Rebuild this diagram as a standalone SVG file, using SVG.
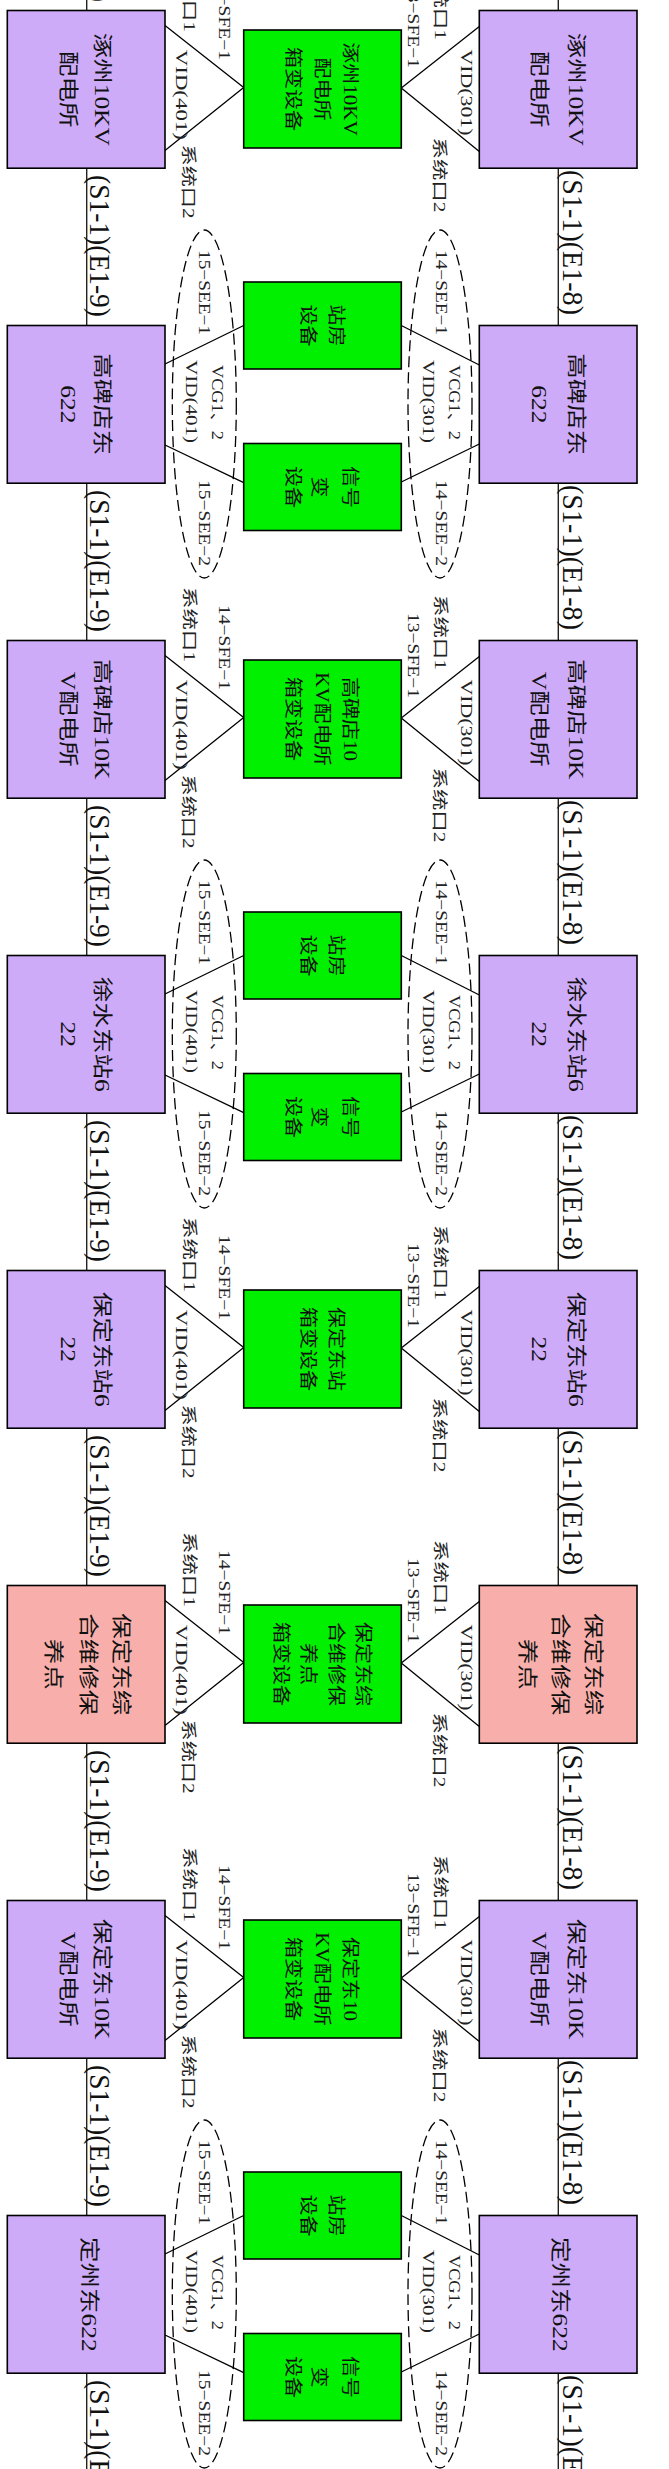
<svg xmlns="http://www.w3.org/2000/svg" width="669" height="2469" viewBox="0 0 669 2469">
<style>
.p{fill:#CEABF9;stroke:#000;stroke-width:1.6}
.k{fill:#F8AFAB;stroke:#000;stroke-width:1.6}
.g{fill:#00F000;stroke:#000;stroke-width:1.6}
.c{stroke:#000;stroke-width:1.3;fill:none}
.sp{stroke:#222;stroke-width:1.4;fill:none}
.e{stroke:#000;stroke-width:1.3;fill:none;stroke-dasharray:11 5}
text{font-family:"Liberation Serif","Noto Sans CJK SC",serif;fill:#111}
.bt{font-size:20px;text-anchor:middle}
.gt{font-size:18px;text-anchor:middle}
.lb{font-size:16px;fill:#222}
.sl{font-size:29px}
</style>
<rect width="669" height="2469" fill="#fff"/>
<g id="spines">
<line class="sp" x1="86.7" y1="0" x2="86.7" y2="2469"/>
<line class="sp" x1="558.3" y1="0" x2="558.3" y2="2469"/>
</g>
<g id="span-labels">
<text class="sl" transform="matrix(0,1,-1,0,90,-140)" textLength="142" lengthAdjust="spacingAndGlyphs">(S1-1)(E1-9)</text>
<text class="sl" transform="matrix(0,1,-1,0,563,-145)" textLength="145" lengthAdjust="spacingAndGlyphs">(S1-1)(E1-8)</text>
<text class="sl" transform="matrix(0,1,-1,0,90,175)" textLength="142" lengthAdjust="spacingAndGlyphs">(S1-1)(E1-9)</text>
<text class="sl" transform="matrix(0,1,-1,0,563,170)" textLength="145" lengthAdjust="spacingAndGlyphs">(S1-1)(E1-8)</text>
<text class="sl" transform="matrix(0,1,-1,0,90,490)" textLength="142" lengthAdjust="spacingAndGlyphs">(S1-1)(E1-9)</text>
<text class="sl" transform="matrix(0,1,-1,0,563,485)" textLength="145" lengthAdjust="spacingAndGlyphs">(S1-1)(E1-8)</text>
<text class="sl" transform="matrix(0,1,-1,0,90,805)" textLength="142" lengthAdjust="spacingAndGlyphs">(S1-1)(E1-9)</text>
<text class="sl" transform="matrix(0,1,-1,0,563,800)" textLength="145" lengthAdjust="spacingAndGlyphs">(S1-1)(E1-8)</text>
<text class="sl" transform="matrix(0,1,-1,0,90,1120)" textLength="142" lengthAdjust="spacingAndGlyphs">(S1-1)(E1-9)</text>
<text class="sl" transform="matrix(0,1,-1,0,563,1115)" textLength="145" lengthAdjust="spacingAndGlyphs">(S1-1)(E1-8)</text>
<text class="sl" transform="matrix(0,1,-1,0,90,1435)" textLength="142" lengthAdjust="spacingAndGlyphs">(S1-1)(E1-9)</text>
<text class="sl" transform="matrix(0,1,-1,0,563,1430)" textLength="145" lengthAdjust="spacingAndGlyphs">(S1-1)(E1-8)</text>
<text class="sl" transform="matrix(0,1,-1,0,90,1750)" textLength="142" lengthAdjust="spacingAndGlyphs">(S1-1)(E1-9)</text>
<text class="sl" transform="matrix(0,1,-1,0,563,1745)" textLength="145" lengthAdjust="spacingAndGlyphs">(S1-1)(E1-8)</text>
<text class="sl" transform="matrix(0,1,-1,0,90,2065)" textLength="142" lengthAdjust="spacingAndGlyphs">(S1-1)(E1-9)</text>
<text class="sl" transform="matrix(0,1,-1,0,563,2060)" textLength="145" lengthAdjust="spacingAndGlyphs">(S1-1)(E1-8)</text>
<text class="sl" transform="matrix(0,1,-1,0,90,2380)" textLength="142" lengthAdjust="spacingAndGlyphs">(S1-1)(E1-9)</text>
<text class="sl" transform="matrix(0,1,-1,0,563,2375)" textLength="145" lengthAdjust="spacingAndGlyphs">(S1-1)(E1-8)</text>
</g>
<g id="connectors">
<g transform="translate(0,10.5)"><path class="c" d="M165,15 L243.7,77 L165,140 M479.3,16 L401.3,77.5 L479.3,141"/></g>
<g transform="translate(0,325.5)"><path class="c" d="M165,38.5 L243.7,0 M165,119.5 L243.7,157.2 M401.3,0 L479.3,39.5 M401.3,156.5 L479.3,118.5"/><ellipse class="e" cx="204.3" cy="78.5" rx="32" ry="174"/><ellipse class="e" cx="440" cy="78.5" rx="32" ry="174"/></g>
<g transform="translate(0,640.5)"><path class="c" d="M165,15 L243.7,77 L165,140 M479.3,16 L401.3,77.5 L479.3,141"/></g>
<g transform="translate(0,955.5)"><path class="c" d="M165,38.5 L243.7,0 M165,119.5 L243.7,157.2 M401.3,0 L479.3,39.5 M401.3,156.5 L479.3,118.5"/><ellipse class="e" cx="204.3" cy="78.5" rx="32" ry="174"/><ellipse class="e" cx="440" cy="78.5" rx="32" ry="174"/></g>
<g transform="translate(0,1270.5)"><path class="c" d="M165,15 L243.7,77 L165,140 M479.3,16 L401.3,77.5 L479.3,141"/></g>
<g transform="translate(0,1585.5)"><path class="c" d="M165,15 L243.7,77 L165,140 M479.3,16 L401.3,77.5 L479.3,141"/></g>
<g transform="translate(0,1900.5)"><path class="c" d="M165,15 L243.7,77 L165,140 M479.3,16 L401.3,77.5 L479.3,141"/></g>
<g transform="translate(0,2215.5)"><path class="c" d="M165,38.5 L243.7,0 M165,119.5 L243.7,157.2 M401.3,0 L479.3,39.5 M401.3,156.5 L479.3,118.5"/><ellipse class="e" cx="204.3" cy="78.5" rx="32" ry="174"/><ellipse class="e" cx="440" cy="78.5" rx="32" ry="174"/></g>
</g>

<!-- Row 1 -->
<g transform="translate(0,10.5)">
<g id="r1-left"><rect class="p" x="7.3" y="0" width="157.7" height="157.7"/>
<text class="bt" transform="matrix(0,1.275,-1,0,94.9,78.8)">涿州10KV</text>
<text class="bt" transform="matrix(0,1.275,-1,0,60.7,78.8)">配电所</text></g>
<g id="r1-box"><rect class="g" x="243.7" y="19.5" width="157.6" height="118"/>
<text class="gt" transform="matrix(0,1.167,-1,0,344,78.5)">涿州10KV</text>
<text class="gt" transform="matrix(0,1.167,-1,0,315.7,78.5)">配电所</text>
<text class="gt" transform="matrix(0,1.167,-1,0,287.4,78.5)">箱变设备</text></g>
<g id="r1-right"><rect class="p" x="479.3" y="0" width="157.7" height="157.7"/>
<text class="bt" transform="matrix(0,1.275,-1,0,569.2,78.8)">涿州10KV</text>
<text class="bt" transform="matrix(0,1.275,-1,0,531.7,78.8)">配电所</text></g>
<g id="r1-labels">
<text class="lb" transform="matrix(0,1,-1,0,183.7,-53.5)" textLength="75" lengthAdjust="spacingAndGlyphs">系统口1</text>
<text class="lb" transform="matrix(0,1,-1,0,219,-35.5)" textLength="85" lengthAdjust="spacingAndGlyphs">14−SFE−1</text>
<text class="lb" transform="matrix(0,1,-1,0,176,39.3)" textLength="90" lengthAdjust="spacingAndGlyphs">VID(401)</text>
<text class="lb" transform="matrix(0,1,-1,0,182.5,134)" textLength="74" lengthAdjust="spacingAndGlyphs">系统口2</text>
<text class="lb" transform="matrix(0,1,-1,0,435,-45.5)" textLength="75" lengthAdjust="spacingAndGlyphs">系统口1</text>
<text class="lb" transform="matrix(0,1,-1,0,408,-27.5)" textLength="85" lengthAdjust="spacingAndGlyphs">13−SFE−1</text>
<text class="lb" transform="matrix(0,1,-1,0,461,39)" textLength="86" lengthAdjust="spacingAndGlyphs">VID(301)</text>
<text class="lb" transform="matrix(0,1,-1,0,434,127)" textLength="75" lengthAdjust="spacingAndGlyphs">系统口2</text>
</g>
</g>

<!-- Row 2 -->
<g transform="translate(0,325.5)">
<g id="r2-left"><rect class="p" x="7.3" y="0" width="157.7" height="157.7"/>
<text class="bt" transform="matrix(0,1.275,-1,0,94.9,78.8)">高碑店东</text>
<text class="bt" transform="matrix(0,1.275,-1,0,60.7,78.8)">622</text></g>
<g id="r2-box1"><rect class="g" x="243.7" y="-43.5" width="157.6" height="87"/>
<text class="gt" transform="matrix(0,1.167,-1,0,329.8,0)">站房</text>
<text class="gt" transform="matrix(0,1.167,-1,0,301.6,0)">设备</text></g>
<g id="r2-box2"><rect class="g" x="243.7" y="118" width="157.6" height="87"/>
<text class="gt" transform="matrix(0,1.167,-1,0,344,161.5)">信号</text>
<text class="gt" transform="matrix(0,1.167,-1,0,313.2,161.5)">变</text>
<text class="gt" transform="matrix(0,1.167,-1,0,287.4,161.5)">设备</text></g>
<g id="r2-right"><rect class="p" x="479.3" y="0" width="157.7" height="157.7"/>
<text class="bt" transform="matrix(0,1.275,-1,0,569.2,78.8)">高碑店东</text>
<text class="bt" transform="matrix(0,1.275,-1,0,531.7,78.8)">622</text></g>
<g id="r2-labels">
<text class="lb" transform="matrix(0,1,-1,0,199,-75.5)" textLength="85" lengthAdjust="spacingAndGlyphs">15−SEE−1</text>
<text class="lb" transform="matrix(0,1,-1,0,212,39.5)" textLength="75" lengthAdjust="spacingAndGlyphs">VCG1、2</text>
<text class="lb" transform="matrix(0,1,-1,0,186,34.5)" textLength="83" lengthAdjust="spacingAndGlyphs">VID(401)</text>
<text class="lb" transform="matrix(0,1,-1,0,199,154.5)" textLength="86" lengthAdjust="spacingAndGlyphs">15−SEE−2</text>
<text class="lb" transform="matrix(0,1,-1,0,436,-75.5)" textLength="85" lengthAdjust="spacingAndGlyphs">14−SEE−1</text>
<text class="lb" transform="matrix(0,1,-1,0,449,39.5)" textLength="75" lengthAdjust="spacingAndGlyphs">VCG1、2</text>
<text class="lb" transform="matrix(0,1,-1,0,423,34.5)" textLength="83" lengthAdjust="spacingAndGlyphs">VID(301)</text>
<text class="lb" transform="matrix(0,1,-1,0,436,154.5)" textLength="86" lengthAdjust="spacingAndGlyphs">14−SEE−2</text>
</g>
</g>

<!-- Row 3 -->
<g transform="translate(0,640.5)">
<g id="r3-left"><rect class="p" x="7.3" y="0" width="157.7" height="157.7"/>
<text class="bt" transform="matrix(0,1.275,-1,0,94.9,78.8)">高碑店10K</text>
<text class="bt" transform="matrix(0,1.275,-1,0,60.7,78.8)">V配电所</text></g>
<g id="r3-box"><rect class="g" x="243.7" y="19.5" width="157.6" height="118"/>
<text class="gt" transform="matrix(0,1.167,-1,0,344,78.5)">高碑店10</text>
<text class="gt" transform="matrix(0,1.167,-1,0,315.7,78.5)">KV配电所</text>
<text class="gt" transform="matrix(0,1.167,-1,0,287.4,78.5)">箱变设备</text></g>
<g id="r3-right"><rect class="p" x="479.3" y="0" width="157.7" height="157.7"/>
<text class="bt" transform="matrix(0,1.275,-1,0,569.2,78.8)">高碑店10K</text>
<text class="bt" transform="matrix(0,1.275,-1,0,531.7,78.8)">V配电所</text></g>
<g id="r3-labels">
<text class="lb" transform="matrix(0,1,-1,0,183.7,-53.5)" textLength="75" lengthAdjust="spacingAndGlyphs">系统口1</text>
<text class="lb" transform="matrix(0,1,-1,0,219,-35.5)" textLength="85" lengthAdjust="spacingAndGlyphs">14−SFE−1</text>
<text class="lb" transform="matrix(0,1,-1,0,176,39.3)" textLength="90" lengthAdjust="spacingAndGlyphs">VID(401)</text>
<text class="lb" transform="matrix(0,1,-1,0,182.5,134)" textLength="74" lengthAdjust="spacingAndGlyphs">系统口2</text>
<text class="lb" transform="matrix(0,1,-1,0,435,-45.5)" textLength="75" lengthAdjust="spacingAndGlyphs">系统口1</text>
<text class="lb" transform="matrix(0,1,-1,0,408,-27.5)" textLength="85" lengthAdjust="spacingAndGlyphs">13−SFE−1</text>
<text class="lb" transform="matrix(0,1,-1,0,461,39)" textLength="86" lengthAdjust="spacingAndGlyphs">VID(301)</text>
<text class="lb" transform="matrix(0,1,-1,0,434,127)" textLength="75" lengthAdjust="spacingAndGlyphs">系统口2</text>
</g>
</g>

<!-- Row 4 -->
<g transform="translate(0,955.5)">
<g id="r4-left"><rect class="p" x="7.3" y="0" width="157.7" height="157.7"/>
<text class="bt" transform="matrix(0,1.275,-1,0,94.9,78.8)">徐水东站6</text>
<text class="bt" transform="matrix(0,1.275,-1,0,60.7,78.8)">22</text></g>
<g id="r4-box1"><rect class="g" x="243.7" y="-43.5" width="157.6" height="87"/>
<text class="gt" transform="matrix(0,1.167,-1,0,329.8,0)">站房</text>
<text class="gt" transform="matrix(0,1.167,-1,0,301.6,0)">设备</text></g>
<g id="r4-box2"><rect class="g" x="243.7" y="118" width="157.6" height="87"/>
<text class="gt" transform="matrix(0,1.167,-1,0,344,161.5)">信号</text>
<text class="gt" transform="matrix(0,1.167,-1,0,313.2,161.5)">变</text>
<text class="gt" transform="matrix(0,1.167,-1,0,287.4,161.5)">设备</text></g>
<g id="r4-right"><rect class="p" x="479.3" y="0" width="157.7" height="157.7"/>
<text class="bt" transform="matrix(0,1.275,-1,0,569.2,78.8)">徐水东站6</text>
<text class="bt" transform="matrix(0,1.275,-1,0,531.7,78.8)">22</text></g>
<g id="r4-labels">
<text class="lb" transform="matrix(0,1,-1,0,199,-75.5)" textLength="85" lengthAdjust="spacingAndGlyphs">15−SEE−1</text>
<text class="lb" transform="matrix(0,1,-1,0,212,39.5)" textLength="75" lengthAdjust="spacingAndGlyphs">VCG1、2</text>
<text class="lb" transform="matrix(0,1,-1,0,186,34.5)" textLength="83" lengthAdjust="spacingAndGlyphs">VID(401)</text>
<text class="lb" transform="matrix(0,1,-1,0,199,154.5)" textLength="86" lengthAdjust="spacingAndGlyphs">15−SEE−2</text>
<text class="lb" transform="matrix(0,1,-1,0,436,-75.5)" textLength="85" lengthAdjust="spacingAndGlyphs">14−SEE−1</text>
<text class="lb" transform="matrix(0,1,-1,0,449,39.5)" textLength="75" lengthAdjust="spacingAndGlyphs">VCG1、2</text>
<text class="lb" transform="matrix(0,1,-1,0,423,34.5)" textLength="83" lengthAdjust="spacingAndGlyphs">VID(301)</text>
<text class="lb" transform="matrix(0,1,-1,0,436,154.5)" textLength="86" lengthAdjust="spacingAndGlyphs">14−SEE−2</text>
</g>
</g>

<!-- Row 5 -->
<g transform="translate(0,1270.5)">
<g id="r5-left"><rect class="p" x="7.3" y="0" width="157.7" height="157.7"/>
<text class="bt" transform="matrix(0,1.275,-1,0,94.9,78.8)">保定东站6</text>
<text class="bt" transform="matrix(0,1.275,-1,0,60.7,78.8)">22</text></g>
<g id="r5-box"><rect class="g" x="243.7" y="19.5" width="157.6" height="118"/>
<text class="gt" transform="matrix(0,1.167,-1,0,329.8,78.5)">保定东站</text>
<text class="gt" transform="matrix(0,1.167,-1,0,301.6,78.5)">箱变设备</text></g>
<g id="r5-right"><rect class="p" x="479.3" y="0" width="157.7" height="157.7"/>
<text class="bt" transform="matrix(0,1.275,-1,0,569.2,78.8)">保定东站6</text>
<text class="bt" transform="matrix(0,1.275,-1,0,531.7,78.8)">22</text></g>
<g id="r5-labels">
<text class="lb" transform="matrix(0,1,-1,0,183.7,-53.5)" textLength="75" lengthAdjust="spacingAndGlyphs">系统口1</text>
<text class="lb" transform="matrix(0,1,-1,0,219,-35.5)" textLength="85" lengthAdjust="spacingAndGlyphs">14−SFE−1</text>
<text class="lb" transform="matrix(0,1,-1,0,176,39.3)" textLength="90" lengthAdjust="spacingAndGlyphs">VID(401)</text>
<text class="lb" transform="matrix(0,1,-1,0,182.5,134)" textLength="74" lengthAdjust="spacingAndGlyphs">系统口2</text>
<text class="lb" transform="matrix(0,1,-1,0,435,-45.5)" textLength="75" lengthAdjust="spacingAndGlyphs">系统口1</text>
<text class="lb" transform="matrix(0,1,-1,0,408,-27.5)" textLength="85" lengthAdjust="spacingAndGlyphs">13−SFE−1</text>
<text class="lb" transform="matrix(0,1,-1,0,461,39)" textLength="86" lengthAdjust="spacingAndGlyphs">VID(301)</text>
<text class="lb" transform="matrix(0,1,-1,0,434,127)" textLength="75" lengthAdjust="spacingAndGlyphs">系统口2</text>
</g>
</g>

<!-- Row 6 -->
<g transform="translate(0,1585.5)">
<g id="r6-left"><rect class="k" x="7.3" y="0" width="157.7" height="157.7"/>
<text class="bt" transform="matrix(0,1.275,-1,0,114.4,78.8)">保定东综</text>
<text class="bt" transform="matrix(0,1.275,-1,0,81.1,78.8)">合维修保</text>
<text class="bt" transform="matrix(0,1.275,-1,0,45.8,78.8)">养点</text></g>
<g id="r6-box"><rect class="g" x="243.7" y="19.5" width="157.6" height="118"/>
<text class="gt" transform="matrix(0,1.167,-1,0,357,78.5)">保定东综</text>
<text class="gt" transform="matrix(0,1.167,-1,0,329.5,78.5)">合维修保</text>
<text class="gt" transform="matrix(0,1.167,-1,0,302,78.5)">养点</text>
<text class="gt" transform="matrix(0,1.167,-1,0,274.5,78.5)">箱变设备</text></g>
<g id="r6-right"><rect class="k" x="479.3" y="0" width="157.7" height="157.7"/>
<text class="bt" transform="matrix(0,1.275,-1,0,586.4,78.8)">保定东综</text>
<text class="bt" transform="matrix(0,1.275,-1,0,553.4,78.8)">合维修保</text>
<text class="bt" transform="matrix(0,1.275,-1,0,520.4,78.8)">养点</text></g>
<g id="r6-labels">
<text class="lb" transform="matrix(0,1,-1,0,183.7,-53.5)" textLength="75" lengthAdjust="spacingAndGlyphs">系统口1</text>
<text class="lb" transform="matrix(0,1,-1,0,219,-35.5)" textLength="85" lengthAdjust="spacingAndGlyphs">14−SFE−1</text>
<text class="lb" transform="matrix(0,1,-1,0,176,39.3)" textLength="90" lengthAdjust="spacingAndGlyphs">VID(401)</text>
<text class="lb" transform="matrix(0,1,-1,0,182.5,134)" textLength="74" lengthAdjust="spacingAndGlyphs">系统口2</text>
<text class="lb" transform="matrix(0,1,-1,0,435,-45.5)" textLength="75" lengthAdjust="spacingAndGlyphs">系统口1</text>
<text class="lb" transform="matrix(0,1,-1,0,408,-27.5)" textLength="85" lengthAdjust="spacingAndGlyphs">13−SFE−1</text>
<text class="lb" transform="matrix(0,1,-1,0,461,39)" textLength="86" lengthAdjust="spacingAndGlyphs">VID(301)</text>
<text class="lb" transform="matrix(0,1,-1,0,434,127)" textLength="75" lengthAdjust="spacingAndGlyphs">系统口2</text>
</g>
</g>

<!-- Row 7 -->
<g transform="translate(0,1900.5)">
<g id="r7-left"><rect class="p" x="7.3" y="0" width="157.7" height="157.7"/>
<text class="bt" transform="matrix(0,1.275,-1,0,94.9,78.8)">保定东10K</text>
<text class="bt" transform="matrix(0,1.275,-1,0,60.7,78.8)">V配电所</text></g>
<g id="r7-box"><rect class="g" x="243.7" y="19.5" width="157.6" height="118"/>
<text class="gt" transform="matrix(0,1.167,-1,0,344,78.5)">保定东10</text>
<text class="gt" transform="matrix(0,1.167,-1,0,315.7,78.5)">KV配电所</text>
<text class="gt" transform="matrix(0,1.167,-1,0,287.4,78.5)">箱变设备</text></g>
<g id="r7-right"><rect class="p" x="479.3" y="0" width="157.7" height="157.7"/>
<text class="bt" transform="matrix(0,1.275,-1,0,569.2,78.8)">保定东10K</text>
<text class="bt" transform="matrix(0,1.275,-1,0,531.7,78.8)">V配电所</text></g>
<g id="r7-labels">
<text class="lb" transform="matrix(0,1,-1,0,183.7,-53.5)" textLength="75" lengthAdjust="spacingAndGlyphs">系统口1</text>
<text class="lb" transform="matrix(0,1,-1,0,219,-35.5)" textLength="85" lengthAdjust="spacingAndGlyphs">14−SFE−1</text>
<text class="lb" transform="matrix(0,1,-1,0,176,39.3)" textLength="90" lengthAdjust="spacingAndGlyphs">VID(401)</text>
<text class="lb" transform="matrix(0,1,-1,0,182.5,134)" textLength="74" lengthAdjust="spacingAndGlyphs">系统口2</text>
<text class="lb" transform="matrix(0,1,-1,0,435,-45.5)" textLength="75" lengthAdjust="spacingAndGlyphs">系统口1</text>
<text class="lb" transform="matrix(0,1,-1,0,408,-27.5)" textLength="85" lengthAdjust="spacingAndGlyphs">13−SFE−1</text>
<text class="lb" transform="matrix(0,1,-1,0,461,39)" textLength="86" lengthAdjust="spacingAndGlyphs">VID(301)</text>
<text class="lb" transform="matrix(0,1,-1,0,434,127)" textLength="75" lengthAdjust="spacingAndGlyphs">系统口2</text>
</g>
</g>

<!-- Row 8 -->
<g transform="translate(0,2215.5)">
<g id="r8-left"><rect class="p" x="7.3" y="0" width="157.7" height="157.7"/>
<text class="bt" transform="matrix(0,1.275,-1,0,82.4,78.8)">定州东622</text></g>
<g id="r8-box1"><rect class="g" x="243.7" y="-43.5" width="157.6" height="87"/>
<text class="gt" transform="matrix(0,1.167,-1,0,329.8,0)">站房</text>
<text class="gt" transform="matrix(0,1.167,-1,0,301.6,0)">设备</text></g>
<g id="r8-box2"><rect class="g" x="243.7" y="118" width="157.6" height="87"/>
<text class="gt" transform="matrix(0,1.167,-1,0,344,161.5)">信号</text>
<text class="gt" transform="matrix(0,1.167,-1,0,313.2,161.5)">变</text>
<text class="gt" transform="matrix(0,1.167,-1,0,287.4,161.5)">设备</text></g>
<g id="r8-right"><rect class="p" x="479.3" y="0" width="157.7" height="157.7"/>
<text class="bt" transform="matrix(0,1.275,-1,0,553.4,78.8)">定州东622</text></g>
<g id="r8-labels">
<text class="lb" transform="matrix(0,1,-1,0,199,-75.5)" textLength="85" lengthAdjust="spacingAndGlyphs">15−SEE−1</text>
<text class="lb" transform="matrix(0,1,-1,0,212,39.5)" textLength="75" lengthAdjust="spacingAndGlyphs">VCG1、2</text>
<text class="lb" transform="matrix(0,1,-1,0,186,34.5)" textLength="83" lengthAdjust="spacingAndGlyphs">VID(401)</text>
<text class="lb" transform="matrix(0,1,-1,0,199,154.5)" textLength="86" lengthAdjust="spacingAndGlyphs">15−SEE−2</text>
<text class="lb" transform="matrix(0,1,-1,0,436,-75.5)" textLength="85" lengthAdjust="spacingAndGlyphs">14−SEE−1</text>
<text class="lb" transform="matrix(0,1,-1,0,449,39.5)" textLength="75" lengthAdjust="spacingAndGlyphs">VCG1、2</text>
<text class="lb" transform="matrix(0,1,-1,0,423,34.5)" textLength="83" lengthAdjust="spacingAndGlyphs">VID(301)</text>
<text class="lb" transform="matrix(0,1,-1,0,436,154.5)" textLength="86" lengthAdjust="spacingAndGlyphs">14−SEE−2</text>
</g>
</g>
</svg>
